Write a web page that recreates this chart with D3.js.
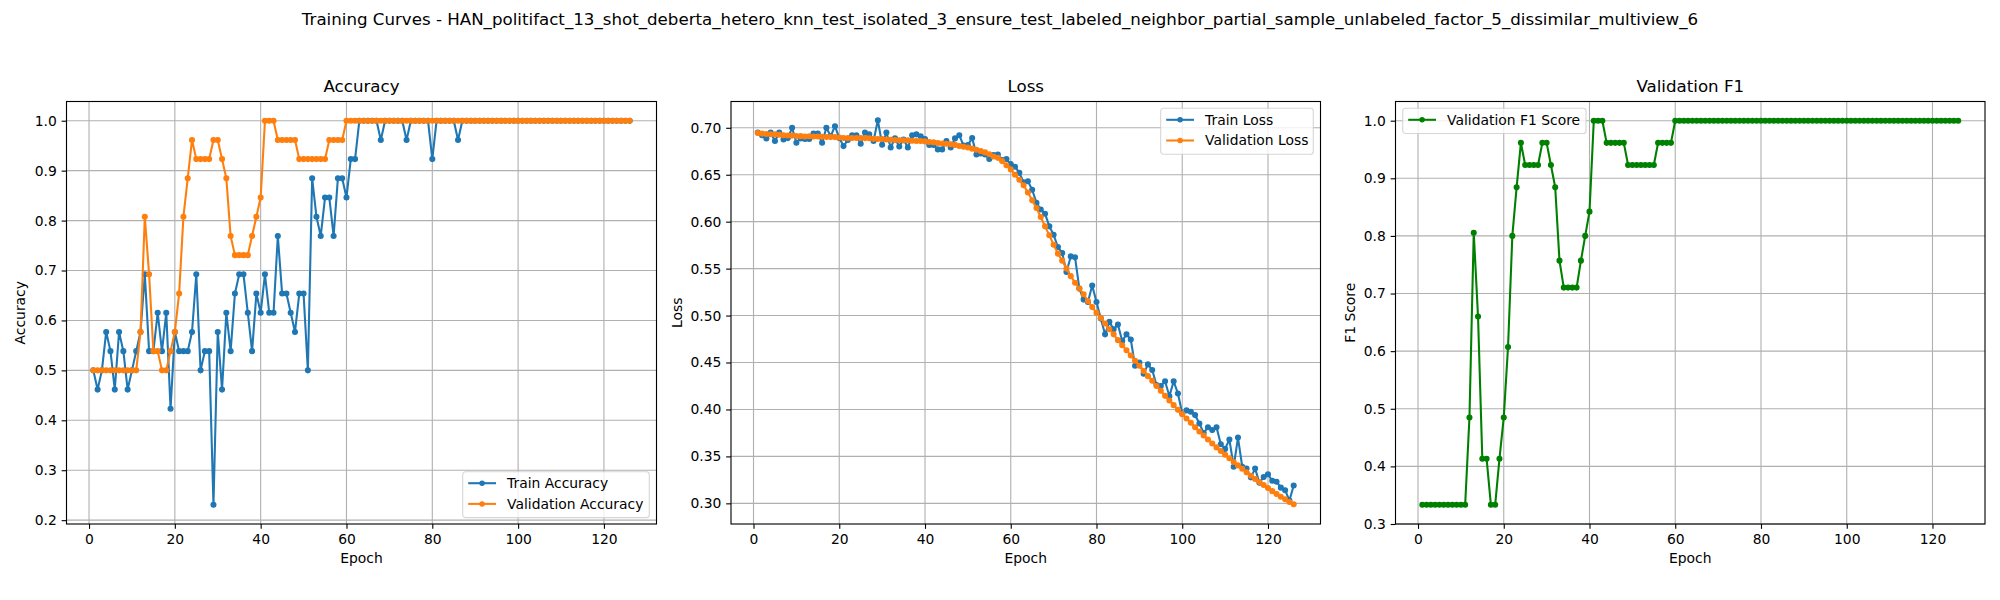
<!DOCTYPE html>
<html>
<head>
<meta charset="utf-8">
<script src="https://cdn.jsdelivr.net/npm/d3@7"></script>
<style>
	html, body { margin: 0; padding: 0; background: #fff; }
	svg { display: block; }
	text { font-family: "DejaVu Sans", sans-serif; fill: #000; }
</style>
</head>
<body>
<div class="chart"></div>
<script>
var chartTitle = "Training Curves - HAN_politifact_13_shot_deberta_hetero_knn_test_isolated_3_ensure_test_labeled_neighbor_partial_sample_unlabeled_factor_5_dissimilar_multiview_6";

var epochTicks = [0, 20, 40, 60, 80, 100, 120];
var accTicks = [0.2, 0.3, 0.4, 0.5, 0.6, 0.7, 0.8, 0.9, 1.0];
var lossTicks = [0.30, 0.35, 0.40, 0.45, 0.50, 0.55, 0.60, 0.65, 0.70];
var f1Ticks = [0.3, 0.4, 0.5, 0.6, 0.7, 0.8, 0.9, 1.0];

var trainAcc = [
	.5,.4615,.5,.5769,.5385,.4615,.5769,.5385,.4615,.5,
	.5385,.5769,.6923,.5385,.5385,.6154,.5385,.6154,.4231,.5769,
	.5385,.5385,.5385,.5769,.6923,.5,.5385,.5385,.2308,.5769,
	.4615,.6154,.5385,.6538,.6923,.6923,.6154,.5385,.6538,.6154,
	.6923,.6154,.6154,.7692,.6538,.6538,.6154,.5769,.6538,.6538,
	.5,.8846,.8077,.7692,.8462,.8462,.7692,.8846,.8846,.8462,
	.9231,.9231,1,1,1,1,1,.9615,1,1,
	1,1,1,.9615,1,1,1,1,1,.9231,
	1,1,1,1,1,.9615,1,1,1,1,
	1,1,1,1,1,1,1,1,1,1,
	1,1,1,1,1,1,1,1,1,1,
	1,1,1,1,1,1,1,1,1,1,
	1,1,1,1,1,1
];

var valAcc = [
	.5,.5,.5,.5,.5,.5,.5,.5,.5,.5,
	.5,.5769,.8077,.6923,.5385,.5385,.5,.5,.5385,.5769,
	.6538,.8077,.8846,.9615,.9231,.9231,.9231,.9231,.9615,.9615,
	.9231,.8846,.7692,.7308,.7308,.7308,.7308,.7692,.8077,.8462,
	1,1,1,.9615,.9615,.9615,.9615,.9615,.9231,.9231,
	.9231,.9231,.9231,.9231,.9231,.9615,.9615,.9615,.9615,1,
	1,1,1,1,1,1,1,1,1,1,
	1,1,1,1,1,1,1,1,1,1,
	1,1,1,1,1,1,1,1,1,1,
	1,1,1,1,1,1,1,1,1,1,
	1,1,1,1,1,1,1,1,1,1,
	1,1,1,1,1,1,1,1,1,1,
	1,1,1,1,1,1
];

var trainLoss = [
	.695,.692,.6887,.695,.686,.695,.6876,.689,.70,.684,
	.6887,.688,.688,.694,.694,.684,.70,.691,.7017,.689,
	.6805,.687,.692,.692,.683,.695,.693,.686,.708,.682,
	.695,.679,.6887,.68,.6876,.679,.692,.693,.691,.688,
	.6816,.6816,.677,.677,.686,.679,.6887,.692,.681,.6816,
	.689,.6716,.6727,.6716,.6667,.671,.6716,.6656,.6667,.6613,
	.6585,.652,.642,.643,.634,.62,.613,.6085,.595,.586,
	.573,.5667,.5465,.563,.562,.5287,.517,.5145,.532,.5145,
	.4968,.48,.4933,.4855,.4904,.473,.48,.4745,.4465,.45,
	.438,.448,.442,.426,.425,.43,.414,.43,.417,.3957,
	.399,.3975,.394,.385,.375,.381,.378,.381,.363,.358,
	.368,.339,.37,.339,.337,.3277,.337,.322,.328,.331,
	.324,.323,.3167,.314,.303,.319
];

var valLoss = [
	.6945,.6938,.6934,.6932,.693,.6926,.6921,.6918,.6917,.6912,
	.6911,.6908,.691,.6908,.6907,.6905,.6902,.6901,.6901,.6896,
	.6892,.689,.6891,.6892,.689,.689,.6888,.6882,.6881,.688,
	.6876,.6873,.687,.6868,.6866,.6866,.6862,.686,.6859,.6855,
	.6848,.6845,.6838,.6832,.683,.6825,.6818,.6806,.6798,.679,
	.6778,.6766,.6752,.6738,.6718,.6695,.668,.6645,.66,.6557,
	.65,.6447,.6387,.631,.6227,.6145,.605,.595,.5855,.5755,
	.566,.5585,.55,.542,.535,.5287,.5227,.5156,.509,.503,
	.4975,.4915,.4855,.48,.4738,.4684,.463,.4574,.4518,.4465,
	.441,.4355,.4305,.425,.42,.4145,.4096,.4046,.3996,.395,
	.3904,.3858,.381,.3766,.3723,.368,.3638,.3596,.3557,.3518,
	.348,.344,.3404,.3369,.333,.3294,.326,.3227,.3195,.3163,
	.313,.31,.307,.3043,.3014,.299
];

var valF1 = [
	.3333,.3333,.3333,.3333,.3333,.3333,.3333,.3333,.3333,.3333,
	.3333,.4848,.8056,.66,.4133,.4133,.3333,.3333,.4133,.4848,
	.6071,.8,.8844,.9615,.9231,.9231,.9231,.9231,.9615,.9615,
	.9231,.8844,.7571,.7103,.7103,.7103,.7103,.7571,.8,.8421,
	1,1,1,.9615,.9615,.9615,.9615,.9615,.9231,.9231,
	.9231,.9231,.9231,.9231,.9231,.9615,.9615,.9615,.9615,1,
	1,1,1,1,1,1,1,1,1,1,
	1,1,1,1,1,1,1,1,1,1,
	1,1,1,1,1,1,1,1,1,1,
	1,1,1,1,1,1,1,1,1,1,
	1,1,1,1,1,1,1,1,1,1,
	1,1,1,1,1,1,1,1,1,1,
	1,1,1,1,1,1
];

var blue = "#1f77b4", orange = "#ff7f0e", green = "#008000";

var svg = d3.select(".chart").append("svg")
	.attr("width", 2000)
	.attr("height", 600);

svg.append("text")
	.attr("x", 1000)
	.attr("y", 25)
	.attr("text-anchor", "middle")
	.style("font-size", "16.67px")
	.text(chartTitle);

function makePanel(opts){

	var top = 101.5, bottom = 524;

	var x = d3.scaleLinear().domain([-5.25, 132.25]).range([opts.left, opts.right]);
	var y = d3.scaleLinear().domain(opts.yDomain).range([bottom, top]);

	var g = svg.append("g");

	// grid
	g.append("g").selectAll("line").data(epochTicks).enter().append("line")
		.attr("x1", function(d){ return x(d); })
		.attr("x2", function(d){ return x(d); })
		.attr("y1", top).attr("y2", bottom)
		.attr("stroke", "#b0b0b0").attr("stroke-width", 1.11);

	g.append("g").selectAll("line").data(opts.yTicks).enter().append("line")
		.attr("x1", opts.left).attr("x2", opts.right)
		.attr("y1", function(d){ return y(d); })
		.attr("y2", function(d){ return y(d); })
		.attr("stroke", "#b0b0b0").attr("stroke-width", 1.11);

	// series
	var line = d3.line()
		.x(function(d,i){ return x(i+1); })
		.y(function(d){ return y(d); });

	opts.series.forEach(function(s){
		g.append("path")
			.attr("d", line(s.values))
			.attr("fill", "none")
			.attr("stroke", s.color)
			.attr("stroke-width", 2.08)
			.attr("stroke-linejoin", "round");

		g.append("g").selectAll("circle").data(s.values).enter().append("circle")
			.attr("cx", function(d,i){ return x(i+1); })
			.attr("cy", function(d){ return y(d); })
			.attr("r", 2.35)
			.attr("fill", s.color)
			.attr("stroke", s.color)
			.attr("stroke-width", 1.39);
	});

	// axes
	var xAxis = d3.axisBottom(x).tickValues(epochTicks).tickSize(4.86).tickPadding(4.8).tickFormat(d3.format("d"));
	var yAxis = d3.axisLeft(y).tickValues(opts.yTicks).tickSize(4.86).tickPadding(4.8).tickFormat(d3.format(opts.yFormat));

	[g.append("g").attr("transform", "translate(0," + bottom + ")").call(xAxis),
	 g.append("g").attr("transform", "translate(" + opts.left + ",0)").call(yAxis)].forEach(function(a){
		a.select(".domain").remove();
		a.selectAll("line").attr("stroke", "#000").attr("stroke-width", 1.11);
		a.selectAll("text").style("font-size", "13.89px").style("font-family", "DejaVu Sans");
	});

	g.append("rect")
		.attr("x", opts.left).attr("y", top)
		.attr("width", opts.right - opts.left).attr("height", bottom - top)
		.attr("fill", "none").attr("stroke", "#000").attr("stroke-width", 1.11);

	// labels
	g.append("text")
		.attr("x", (opts.left + opts.right) / 2).attr("y", 92)
		.attr("text-anchor", "middle").style("font-size", "16.67px")
		.text(opts.title);

	g.append("text")
		.attr("x", (opts.left + opts.right) / 2).attr("y", 563)
		.attr("text-anchor", "middle").style("font-size", "13.89px")
		.text("Epoch");

	g.append("text")
		.attr("transform", "translate(" + opts.yLabelX + "," + ((top + bottom) / 2) + ") rotate(-90)")
		.attr("text-anchor", "middle").style("font-size", "13.89px")
		.text(opts.yLabel);

	// legend
	var lg = opts.legend;
	var legend = g.append("g").attr("transform", "translate(" + lg.x + "," + lg.y + ")");

	legend.append("rect")
		.attr("width", lg.width).attr("height", 4.5 + opts.series.length * 20.7)
		.attr("rx", 2.8).attr("ry", 2.8)
		.attr("fill", "#fff").attr("fill-opacity", 0.8)
		.attr("stroke", "#ccc").attr("stroke-opacity", 0.8).attr("stroke-width", 1.11);

	opts.series.forEach(function(s,i){
		var rowY = 11.5 + i * 20.7;
		legend.append("line")
			.attr("x1", 5.5).attr("x2", 33.3)
			.attr("y1", rowY).attr("y2", rowY)
			.attr("stroke", s.color).attr("stroke-width", 2.08);
		legend.append("circle")
			.attr("cx", 19.4).attr("cy", rowY).attr("r", 2.08)
			.attr("fill", s.color).attr("stroke", s.color).attr("stroke-width", 1.39);
		legend.append("text")
			.attr("x", 44.4).attr("y", rowY + 4.9)
			.style("font-size", "13.89px")
			.text(s.name);
	});
}

makePanel({
	left: 66.5, right: 656.5,
	yDomain: [0.1923, 1.0385], yTicks: accTicks, yFormat: ".1f",
	title: "Accuracy", yLabel: "Accuracy", yLabelX: 25,
	series: [
		{name: "Train Accuracy", color: blue, values: trainAcc},
		{name: "Validation Accuracy", color: orange, values: valAcc}
	],
	legend: {x: 462.7, y: 471.7, width: 186.6}
});

makePanel({
	left: 731, right: 1320.5,
	yDomain: [0.278, 0.728], yTicks: lossTicks, yFormat: ".2f",
	title: "Loss", yLabel: "Loss", yLabelX: 682,
	series: [
		{name: "Train Loss", color: blue, values: trainLoss},
		{name: "Validation Loss", color: orange, values: valLoss}
	],
	legend: {x: 1160.7, y: 108.3, width: 152.6}
});

makePanel({
	left: 1395.5, right: 1985,
	yDomain: [0.3, 1.0333], yTicks: f1Ticks, yFormat: ".1f",
	title: "Validation F1", yLabel: "F1 Score", yLabelX: 1355,
	series: [
		{name: "Validation F1 Score", color: green, values: valF1}
	],
	legend: {x: 1402.7, y: 108.3, width: 183.3}
});
</script>
</body>
</html>
